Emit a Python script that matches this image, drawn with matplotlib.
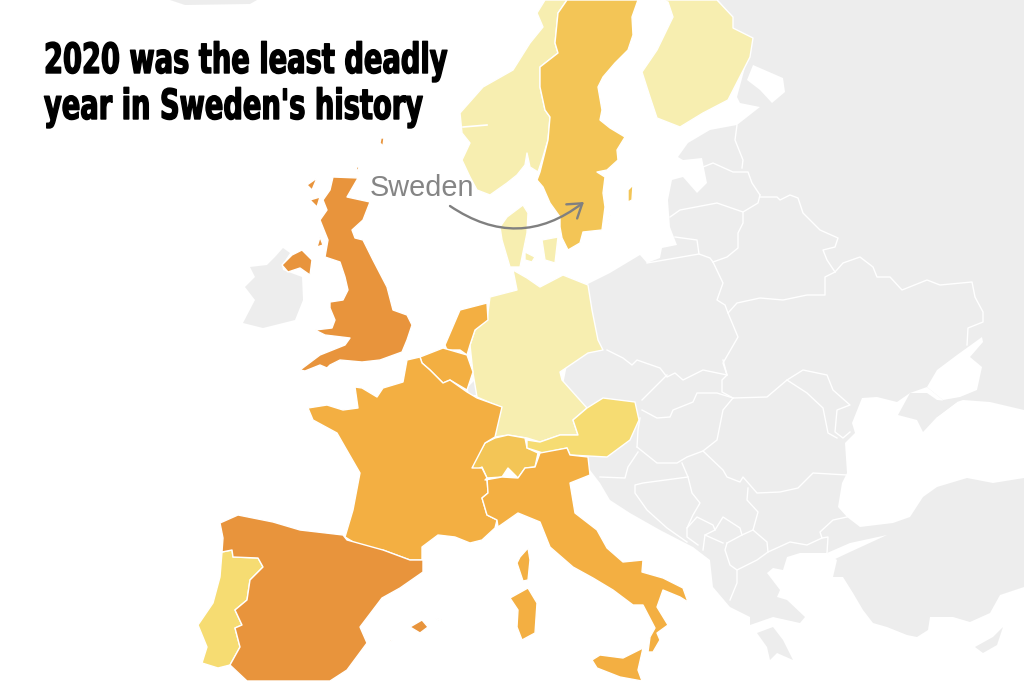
import matplotlib
matplotlib.use("Agg")
import matplotlib.pyplot as plt
import matplotlib.patheffects as pe
from matplotlib.patches import FancyArrowPatch
from matplotlib.transforms import Affine2D

# Colours by excess deaths bucket
GRAY = "#ededed"
PALE = "#f7eeb0"
LIGHT = "#f6dc72"
MID = "#f3c556"
ORANGE = "#f3af42"
DARK = "#e8943c"

# Outlines are in picture pixels
mainland = [(586,285),(610,273),(640,255),(647,263),(660,258),(662,248),(677,245),(670,227),(668,200),(672,180),
            (683,177),(697,193),(707,183),(702,158),(683,160),(678,157),(688,143),(710,130),(737,125),(760,107),
            (740,103),(737,97),(753,38),(733,28),(733,17),(718,0),(1024,0),(1024,587),(1000,595),(990,613),
            (970,622),(953,617),(930,617),(928,630),(917,637),(907,635),(887,627),(873,623),(863,610),(853,593),
            (843,577),(833,577),(837,560),(827,553),(800,553),(787,557),(783,570),(773,568),(767,573),(780,590),
            (777,597),(787,600),(805,617),(800,623),(773,617),(750,625),(750,617),(730,607),(713,587),(710,560),
            (693,547),(660,530),(630,513),(610,500),(600,483),(590,470),(570,440),(560,400),(570,350)]
peloponnese = [(757,633),(773,627),(783,640),(793,660),(777,653),(770,660),(767,647)]
cyprus = [(975,647),(993,637),(1003,627),(997,645),(983,653)]
ireland = [(283,270),(302,277),(303,300),(295,320),(263,328),(243,323),(255,300),(245,287),(255,277),(250,267),
           (267,265),(275,257),(283,248),(290,253),(282,265)]
iceland = [(170,0),(257,0),(250,4),(185,5)]
luxembourg = [(467,388),(475,380),(477,395),(470,395)]

black_sea = [(862,398),(877,397),(897,402),(910,393),(927,387),(943,400),(937,417),(957,402),(963,400),(990,402),
             (1024,410),(1024,478),(993,483),(967,478),(937,487),(923,497),(910,517),(893,523),(860,527),(847,517),
             (838,507),(842,483),(847,473),(845,443),(855,433),(852,423)]
crimea = [(898,415),(910,393),(927,393),(937,400),(957,402),(937,417),(923,432),(917,420)]
azov = [(927,387),(937,370),(957,355),(982,337),(983,342),(970,357),(982,367),(977,390),(960,397),(943,400)]
marmara = [(827,553),(850,543),(887,535),(850,552),(833,560)]
ladoga = [(747,80),(753,65),(783,78),(785,92),(772,103),(760,90)]

uk = [(333,177),(358,178),(347,197),(370,202),(363,220),(352,230),(355,238),(363,240),(373,260),
      (387,287),(393,310),(407,315),(412,325),(407,340),(402,352),(380,360),(362,362),(340,360),(330,365),
      (327,368),(320,365),(305,371),(300,370),(320,355),(345,345),(350,338),(325,335),(315,330),(332,328),
      (335,320),(330,308),(330,302),(343,300),(348,290),(345,277),(340,262),(325,257),(328,240),(320,220),
      (327,210),(323,200),(330,190)]
n_ireland = [(282,265),(292,255),(302,250),(312,260),(310,275),(300,268),(288,272)]
lewis = [(307,185),(317,178),(312,190)]
skye = [(310,200),(320,197),(317,207)]
islay = [(317,247),(320,237),(323,245)]
shetland = [(381,138),(384,138),(383,146),(380,143)]
orkney = [(356,167),(359,167),(358,172)]
norway = [(545,0),(567,0),(558,13),(555,43),(558,53),(540,67),(540,87),(545,110),(550,117),(548,140),
          (542,160),(538,172),(530,167),(527,153),(525,165),(517,175),(507,183),(490,195),(477,190),(470,177),
          (462,160),(470,143),(462,133),(460,113),(483,87),(513,70),(530,43),(543,27),(537,13)]
sweden = [(567,0),(638,0),(632,17),(633,35),(628,50),(615,63),(603,77),(598,87),(602,110),(600,120),
          (610,128),(625,137),(617,150),(618,160),(607,170),(597,172),(605,177),(603,193),(605,207),(602,230),
          (583,232),(580,243),(568,250),(562,238),(560,227),(560,217),(550,203),(543,187),(537,180),(540,172),
          (548,140),(550,117),(545,110),(540,87),(540,67),(558,53),(555,43),(558,13)]
gotland = [(628,190),(633,185),(632,200),(628,202)]
oland = [(610,212),(611,212),(608,224),(607,224)]
finland = [(660,0),(717,0),(733,17),(733,28),(753,38),(750,57),(728,100),(703,113),(680,127),(657,118),
           (650,97),(642,72),(657,50),(673,17),(668,2)]
jutland = [(500,227),(507,217),(523,205),(528,213),(527,233),(520,267),(510,267),(502,240)]
zealand = [(542,240),(558,237),(555,263),(545,260)]
funen = [(525,252),(535,257),(532,262),(525,260)]
germany = [(513,270),(527,278),(540,287),(563,275),(588,285),(592,310),(598,340),(603,350),(588,353),(560,372),
           (562,380),(587,408),(573,420),(578,435),(560,435),(540,442),(527,438),(508,435),(495,437),(500,407),
           (477,397),(473,373),(470,345),(475,330),(487,320),(490,297),(517,290)]
netherlands = [(445,345),(460,310),(487,303),(488,320),(475,330),(470,345),(467,355),(460,350),(447,350)]
belgium = [(420,357),(443,348),(467,355),(473,372),(467,390),(450,380),(443,383),(430,370),(422,363)]
france = [(407,360),(420,357),(422,363),(430,370),(443,383),(450,380),(467,392),(477,398),(502,407),(495,437),
          (485,443),(472,468),(482,468),(487,478),(488,493),(482,498),(487,515),(497,520),(495,528),(482,540),
          (470,543),(455,537),(438,535),(422,547),(422,560),(410,560),(383,550),(363,548),(345,537),(353,510),
          (360,473),(345,447),(337,433),(313,420),(308,408),(327,405),(343,410),(358,408),(355,387),(362,388),
          (377,397),(383,388),(403,382)]
corsica = [(528,548),(530,560),(528,580),(523,581),(517,563),(520,557)]
sardinia = [(528,588),(537,603),(535,633),(522,640),(517,627),(518,610),(510,598)]
italy = [(485,480),(502,477),(518,478),(525,468),(535,467),(540,453),(567,448),(570,455),(588,457),(590,475),
         (570,483),(575,513),(597,530),(607,548),(623,562),(643,560),(642,572),(663,578),(683,588),(688,602),
         (680,597),(663,590),(657,607),(668,625),(657,633),(660,640),(653,652),(648,652),(650,637),(655,628),
         (643,605),(633,605),(613,590),(593,578),(573,567),(550,547),(540,522),(518,513),(508,520),(498,527),
         (497,520),(487,515),(482,498),(488,493),(487,478)]
sicily = [(592,660),(600,655),(623,658),(643,648),(638,670),(642,681),(620,677),(597,668)]
switzerland = [(472,472),(473,463),(485,443),(495,438),(508,435),(525,438),(527,448),(538,453),(535,467),(525,468),
               (518,478),(508,468),(502,477),(487,478),(482,467)]
austria = [(527,440),(540,442),(560,435),(578,435),(573,420),(587,408),(603,398),(635,402),(639,420),(630,440),
           (607,457),(570,455),(567,448),(543,453),(527,448)]
spain = [(220,523),(238,515),(273,522),(300,530),(343,535),(347,540),(383,550),(410,560),(423,560),(423,572),
         (400,588),(382,598),(360,627),(367,643),(347,670),(330,681),(247,681),(230,665),(240,647),(235,628),
         (242,625),(235,610),(247,600),(250,580),(263,567),(258,558),(233,557),(232,550),(222,552),(223,538)]
portugal = [(222,552),(232,550),(233,557),(258,558),(263,567),(250,580),(247,600),(235,610),(242,625),(235,628),
            (240,647),(230,665),(218,668),(202,663),(207,647),(198,625),(213,603),(220,577)]
mallorca = [(410,627),(422,620),(428,627),(420,633)]
menorca = [(435,618),(442,620),(440,621)]
ibiza = [(389,640),(393,640),(390,642)]

# White borders between the countries without data
east_borders = [
    [(737,125),(735,140),(743,160),(742,168)],
    [(703,167),(713,163),(733,172),(748,172),(752,183),(760,195)],
    [(670,217),(680,210),(717,203),(743,212),(758,203),(760,195)],
    [(760,197),(777,197),(780,200),(790,195),(798,198),(803,213),(820,230),(838,238),(835,247),(823,250),(827,260),(835,272)],
    [(835,272),(825,277),(825,295),(807,295),(783,300),(760,298),(737,303),(728,313)],
    [(743,212),(743,223),(738,233),(738,248),(727,257),(713,262)],
    [(675,237),(697,240),(699,254)],
    [(647,263),(699,254),(710,258),(713,262)],
    [(713,262),(723,283),(717,300),(725,305),(728,313),(738,337),(723,363),(727,375)],
    [(607,350),(623,358),(632,365),(637,360),(660,368),(667,377),(675,373),(683,380),(703,370),(727,375)],
    [(835,272),(843,263),(860,257),(873,267),(877,277),(890,277),(902,290),(927,280),(940,285),(972,282),(975,297),(983,312),(983,322),(968,328),(967,345)],
    [(642,400),(662,380),(667,375)],
    [(642,410),(657,418),(670,417),(673,410),(693,402),(697,393),(717,393),(733,398)],
    [(723,360),(727,375),(722,380),(722,392),(733,398)],
    [(733,398),(767,397),(787,380),(803,370),(827,375),(833,390),(850,405),(837,410),(835,432),(843,438),(850,432)],
    [(787,380),(807,393),(823,408),(828,433),(837,438)],
    [(733,398),(723,410),(717,440),(703,451),(687,457),(677,463),(657,463),(637,447)],
    [(640,418),(638,430),(637,447)],
    [(638,452),(628,467),(625,478),(600,477)],
    [(682,463),(688,477),(643,483),(635,485),(635,493),(647,510),(667,528),(687,542)],
    [(688,477),(692,493),(700,503),(693,515),(687,528),(687,537),(698,545)],
    [(703,451),(723,470),(727,477),(740,482),(743,477),(757,493),(780,492),(798,488),(813,473),(847,475)],
    [(748,488),(747,500),(758,512),(753,530),(767,542),(768,552),(790,542),(807,545),(822,538),(820,532),(833,520),(847,517)],
    [(822,538),(828,537),(827,553)],
    [(727,543),(742,535),(753,530)],
    [(768,552),(757,560),(737,570),(730,565),(725,550),(727,543)],
    [(715,530),(723,517),(740,528),(742,535)],
    [(687,528),(697,517),(713,525),(715,530),(705,535),(703,550)],
    [(737,570),(737,583),(730,600)],
    [(705,535),(723,543)],
]

gray_land = [mainland, peloponnese, cyprus, ireland, iceland, luxembourg]
seas = [black_sea, azov, marmara, ladoga]
pale_land = [norway, finland, germany, jutland, zealand, funen]
mid_land = [sweden, gotland, oland, switzerland]
light_land = [austria, portugal]
orange_land = [netherlands, belgium, france, corsica, sardinia, italy, sicily]
dark_land = [uk, n_ireland, lewis, skye, islay, shetland, orkney, spain, mallorca, menorca, ibiza]

title_lines = ["2020 was the least deadly", "year in Sweden's history"]
label = "Sweden"


# No condensed heavy face is installed, so squeeze the bold glyphs sideways
class Squeezed(pe.AbstractPathEffect):
    def __init__(self, x0, sx, lw):
        super().__init__()
        self.x0, self.sx, self.lw = x0, sx, lw

    def draw_path(self, renderer, gc, tpath, affine, rgbFace=None):
        squeeze = Affine2D().translate(-self.x0, 0).scale(self.sx, 1).translate(self.x0, 0)
        gc0 = renderer.new_gc()
        gc0.copy_properties(gc)
        gc0.set_linewidth(self.lw)
        gc0.set_foreground("black")
        renderer.draw_path(gc0, tpath, affine + squeeze, rgbFace)
        gc0.restore()


fig = plt.figure(figsize=(10.24, 6.81), dpi=100)
ax = fig.add_axes([0, 0, 1, 1])
ax.set_xlim(0, 1024)
ax.set_ylim(681, 0)
ax.axis("off")


def draw(shapes, color, lw=1.0):
    for shape in shapes:
        xs, ys = zip(*shape)
        ax.fill(xs, ys, facecolor=color, edgecolor="white", linewidth=lw, joinstyle="round")


draw(gray_land, GRAY, 0)
draw(seas, "white", 0)
draw([crimea], GRAY, 0)
for line in east_borders:
    xs, ys = zip(*line)
    ax.plot(xs, ys, color="white", linewidth=1.0)

draw(pale_land, PALE)
draw(mid_land, MID)
draw(light_land, LIGHT)
draw(orange_land, ORANGE)
draw(dark_land, DARK)

ax.plot([463, 487], [127, 125], color="white", linewidth=1.2)

for text, y in zip(title_lines, [61, 107]):
    ax.text(44, y, text, fontsize=30, family="DejaVu Sans", weight="bold", color="black", va="center",
            path_effects=[Squeezed(44, 0.655, 1.0)])

ax.text(370, 188, label, fontsize=20.8, family="Liberation Sans", color="#858585", va="center")
ax.add_patch(FancyArrowPatch((450, 206), (584, 202), connectionstyle="arc3,rad=0.36", arrowstyle="->,head_length=6,head_width=4",
                             color="#808080", linewidth=1.7, shrinkA=0, shrinkB=0, mutation_scale=1.6))

plt.savefig("out.png", dpi=100)
